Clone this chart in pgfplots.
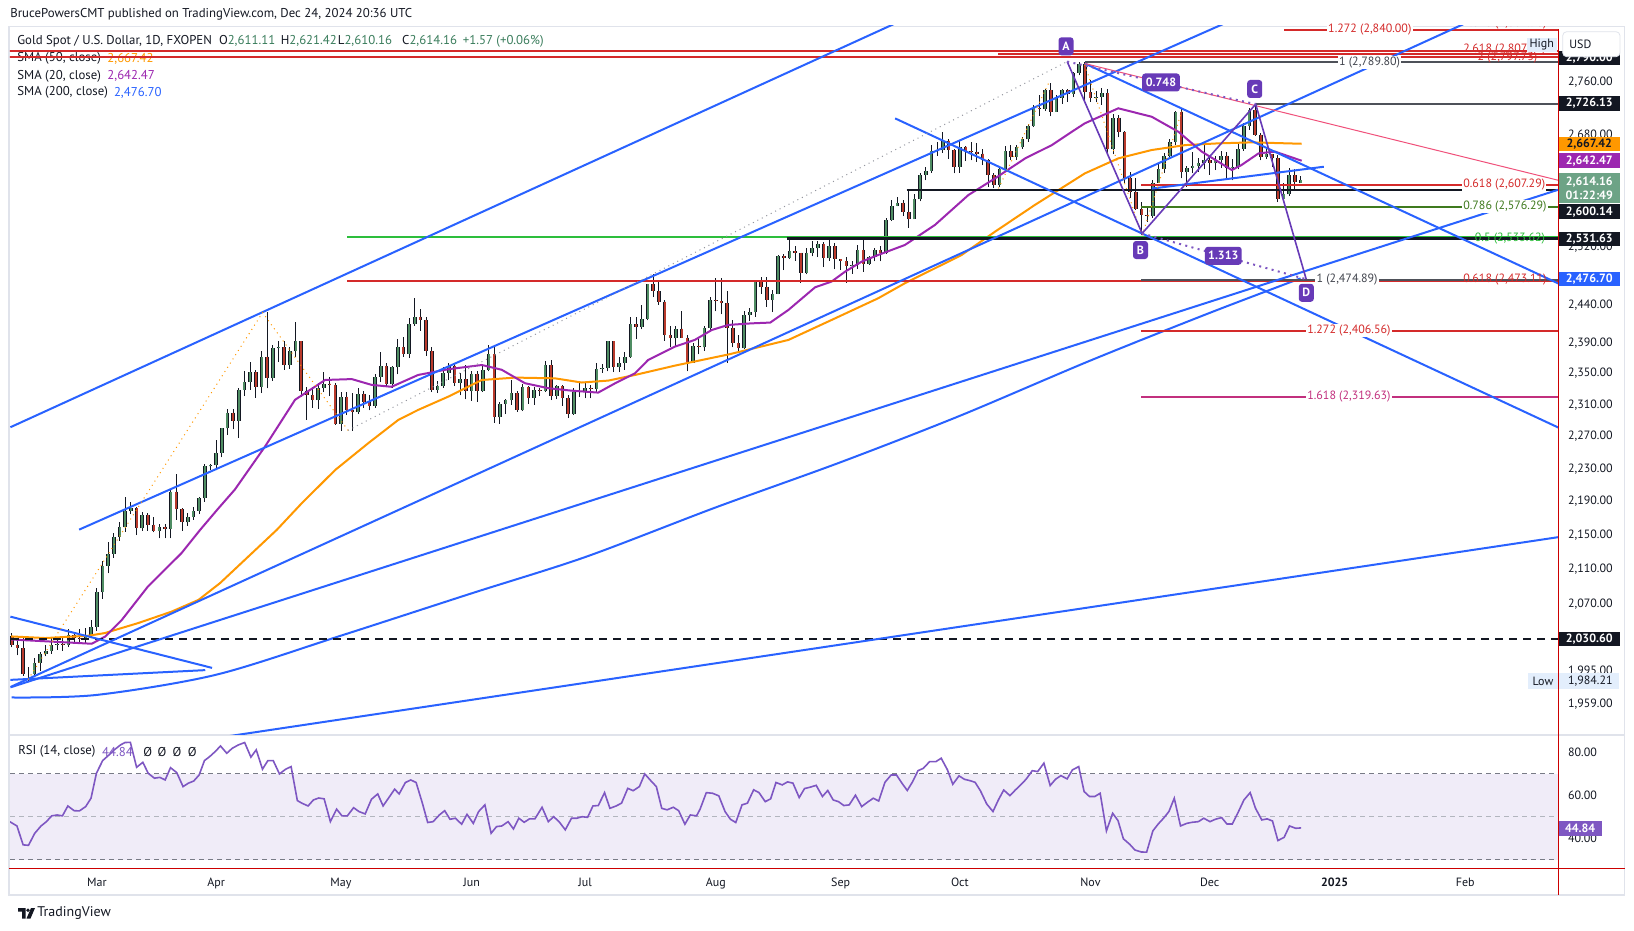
\documentclass[border=0pt]{standalone}
\usepackage{fontspec}
\setmainfont{PT Sans}
\usepackage{pgfplots}
\usepackage{pgfplotstable}
\pgfplotsset{compat=1.18}
\usepgfplotslibrary{fillbetween}

\definecolor{tvtext}{HTML}{131722}
\definecolor{tvgray}{HTML}{787B86}
\definecolor{tvlight}{HTML}{B2B5BE}
\definecolor{tvframe}{HTML}{E0E3EB}
\definecolor{tvblue}{HTML}{2962FF}
\definecolor{tvorange}{HTML}{FF9800}
\definecolor{tvpurple}{HTML}{9C27B0}
\definecolor{tvviolet}{HTML}{673AB7}
\definecolor{rsicol}{HTML}{7E57C2}
\definecolor{rsiband}{HTML}{F0ECF8}
\definecolor{rsigreen}{HTML}{C3E6C6}
\definecolor{fibred}{HTML}{D42A2A}
\definecolor{fibgreen}{HTML}{3F7A1E}
\definecolor{brightgreen}{HTML}{2DBE3C}
\definecolor{fibmag}{HTML}{C2307E}
\definecolor{pinkline}{HTML}{F0507A}
\definecolor{upfill}{HTML}{4F8D63}
\definecolor{dnfill}{HTML}{B93A2C}
\definecolor{lastgreen}{HTML}{6DA386}
\definecolor{lgreen}{HTML}{3A7D5C}
\definecolor{hlbg}{HTML}{E3EEFC}
\definecolor{redline}{HTML}{CC0000}

\newcommand\tvfont{\fontsize{6}{7}\selectfont}
\newcommand\lgfont{\fontsize{6.4}{7.5}\selectfont}

% daily candles, x = trading day (0 = 1 Mar 2024)
\pgfplotstableread{
i O H L C
-15 2034 2037 2021 2024
-14 2024 2031 2012 2020
-13 2020 2032 1990 1992
-12 1992 1999 1984 1992
-11 1992 2009 1990 2004
-10 2004 2016 1995 2013
-9 2013 2023 2011 2017
-8 2017 2031 2014 2024
-7 2024 2030 2018 2025
-6 2025 2034 2017 2024
-5 2024 2041 2021 2035
-4 2035 2038 2025 2031
-3 2031 2041 2027 2030
-2 2030 2043 2026 2034
-1 2034 2052 2031 2044
0 2044 2088 2039 2083
1 2083 2120 2076 2114
2 2114 2142 2105 2128
3 2128 2152 2123 2148
4 2148 2165 2143 2159
5 2159 2195 2154 2179
6 2179 2189 2175 2182
7 2182 2184 2150 2158
8 2158 2177 2155 2174
9 2174 2176 2155 2162
10 2162 2171 2153 2155
11 2155 2163 2146 2160
12 2160 2163 2146 2157
13 2157 2204 2146 2202
14 2202 2223 2168 2181
15 2181 2182 2155 2165
16 2165 2176 2161 2172
17 2172 2184 2168 2179
18 2179 2195 2175 2194
19 2194 2236 2190 2233
20 2233 2236 2228 2234
21 2234 2265 2228 2250
22 2250 2281 2244 2280
23 2280 2305 2272 2300
24 2300 2305 2279 2290
25 2290 2331 2268 2329
26 2329 2354 2321 2339
27 2339 2365 2329 2352
28 2352 2355 2319 2333
29 2333 2379 2325 2372
30 2372 2431 2331 2344
31 2344 2388 2341 2383
32 2383 2393 2365 2384
33 2384 2392 2355 2361
34 2361 2384 2356 2379
35 2379 2418 2372 2392
36 2392 2392 2320 2327
37 2327 2333 2291 2322
38 2322 2333 2306 2316
39 2316 2338 2305 2332
40 2332 2352 2326 2337
41 2337 2345 2321 2335
42 2335 2338 2285 2286
43 2286 2326 2277 2320
44 2320 2326 2297 2303
45 2303 2325 2277 2301
46 2301 2331 2298 2324
47 2324 2327 2306 2314
48 2314 2323 2303 2309
49 2309 2350 2306 2346
50 2346 2378 2339 2360
51 2360 2364 2334 2336
52 2336 2360 2332 2358
53 2358 2395 2349 2385
54 2385 2398 2372 2376
55 2376 2423 2370 2415
56 2415 2450 2413 2425
57 2425 2435 2406 2420
58 2420 2425 2373 2379
59 2379 2385 2326 2329
60 2329 2341 2325 2334
61 2334 2359 2332 2351
62 2351 2364 2342 2360
63 2360 2362 2334 2338
64 2338 2351 2322 2343
65 2343 2361 2317 2327
66 2327 2354 2315 2350
67 2350 2354 2314 2327
68 2327 2360 2326 2355
69 2355 2388 2353 2375
70 2375 2387 2287 2294
71 2294 2313 2286 2311
72 2311 2317 2298 2316
73 2316 2342 2310 2325
74 2325 2327 2301 2303
75 2303 2336 2302 2333
76 2333 2334 2311 2319
77 2319 2333 2310 2329
78 2329 2332 2321 2328
79 2328 2366 2326 2361
80 2361 2368 2316 2321
81 2321 2335 2317 2334
82 2334 2335 2309 2319
83 2319 2323 2293 2298
84 2298 2331 2297 2326
85 2326 2339 2320 2327
86 2327 2339 2318 2332
87 2332 2335 2318 2330
88 2330 2364 2326 2356
89 2356 2363 2351 2357
90 2357 2393 2353 2392
91 2392 2393 2352 2359
92 2359 2372 2352 2364
93 2364 2378 2355 2371
94 2371 2424 2370 2415
95 2415 2425 2395 2411
96 2411 2440 2408 2422
97 2422 2469 2420 2469
98 2469 2483 2451 2459
99 2459 2473 2441 2445
100 2445 2447 2393 2400
101 2400 2412 2385 2396
102 2396 2412 2384 2409
103 2409 2432 2397 2397
104 2397 2400 2353 2364
105 2364 2390 2364 2386
106 2386 2395 2375 2384
107 2384 2412 2380 2410
108 2410 2451 2405 2447
109 2447 2477 2432 2446
110 2446 2477 2428 2443
111 2443 2460 2364 2410
112 2410 2420 2384 2390
113 2390 2401 2378 2383
114 2383 2432 2382 2427
115 2427 2436 2419 2431
116 2431 2474 2425 2472
117 2472 2478 2456 2465
118 2465 2478 2438 2447
119 2447 2461 2431 2456
120 2456 2509 2455 2507
121 2507 2510 2488 2504
122 2504 2531 2503 2514
123 2514 2521 2501 2512
124 2512 2512 2471 2484
125 2484 2519 2482 2512
126 2512 2528 2507 2518
127 2518 2528 2506 2524
128 2524 2527 2492 2504
129 2504 2529 2501 2521
130 2521 2525 2489 2503
131 2503 2503 2488 2500
132 2500 2506 2471 2493
133 2493 2500 2483 2495
134 2495 2523 2490 2516
135 2516 2530 2486 2497
136 2497 2507 2495 2506
137 2506 2519 2500 2516
138 2516 2521 2500 2512
139 2512 2561 2510 2558
140 2558 2586 2556 2578
141 2578 2590 2577 2582
142 2582 2586 2563 2569
143 2569 2600 2547 2559
144 2559 2595 2559 2587
145 2587 2625 2584 2622
146 2622 2634 2614 2628
147 2628 2665 2625 2657
148 2657 2670 2650 2658
149 2658 2685 2654 2672
150 2672 2675 2645 2658
151 2658 2660 2624 2634
152 2634 2673 2625 2663
153 2663 2664 2642 2657
154 2657 2670 2643 2656
155 2656 2669 2641 2653
156 2653 2660 2636 2643
157 2643 2645 2605 2622
158 2622 2624 2603 2608
159 2608 2632 2604 2631
160 2631 2664 2628 2657
161 2657 2665 2643 2648
162 2648 2665 2644 2662
163 2662 2677 2660 2674
164 2674 2696 2670 2693
165 2693 2725 2692 2721
166 2721 2740 2709 2719
167 2719 2749 2716 2748
168 2748 2758 2708 2715
169 2715 2740 2715 2736
170 2736 2749 2727 2747
171 2747 2749 2730 2742
172 2742 2775 2737 2774
173 2774 2790 2770 2788
174 2788 2790 2730 2744
175 2744 2763 2730 2736
176 2736 2746 2729 2737
177 2737 2750 2725 2743
178 2743 2749 2652 2659
179 2659 2711 2652 2706
180 2706 2710 2677 2685
181 2685 2686 2610 2618
182 2618 2626 2589 2598
183 2598 2618 2572 2573
184 2573 2583 2536 2565
185 2565 2578 2555 2563
186 2563 2615 2561 2611
187 2611 2639 2611 2631
188 2631 2654 2625 2650
189 2650 2674 2645 2670
190 2670 2716 2665 2715
191 2715 2721 2617 2626
192 2626 2635 2605 2632
193 2632 2655 2624 2635
194 2635 2647 2626 2639
195 2639 2665 2630 2643
196 2643 2650 2622 2640
197 2640 2650 2629 2643
198 2643 2657 2632 2650
199 2650 2655 2616 2632
200 2632 2645 2614 2633
201 2633 2667 2630 2660
202 2660 2698 2657 2694
203 2694 2721 2688 2718
204 2718 2726 2679 2681
205 2681 2684 2643 2648
206 2648 2661 2645 2652
207 2652 2653 2634 2646
208 2646 2651 2583 2587
209 2587 2611 2583 2594
210 2594 2632 2592 2622
211 2622 2630 2602 2612
212 2611 2621 2610 2614
}\candles

\pgfplotstableread{
x y
-15.34 47.7
-14.08 45.7
-12.98 36.9
-12.04 36.7
-10.94 42.3
-9.83 45.7
-8.89 47.7
-7.95 50.4
-7.00 50.8
-6.06 50.4
-5.11 55.0
-4.01 52.8
-3.07 52.7
-1.97 54.7
-1.03 58.6
-0.08 70.2
1.02 76.1
2.12 78.7
3.06 81.1
4.17 83.4
4.95 84.5
5.90 84.6
7.00 73.0
8.10 75.3
9.04 70.2
10.14 67.9
11.09 68.3
12.03 67.1
12.97 72.8
14.07 70.5
15.18 64.0
16.12 65.6
17.06 66.6
18.01 69.4
18.95 76.1
19.89 78.0
20.84 80.3
21.78 82.9
22.88 79.5
23.83 81.8
24.93 83.4
26.03 84.5
27.13 77.7
28.07 81.1
29.17 72.1
30.12 76.1
31.06 76.1
32.16 69.9
33.26 72.1
34.21 73.3
35.31 57.5
36.10 56.3
37.20 55.0
38.14 57.8
39.08 58.7
40.03 58.3
41.13 47.7
42.23 53.5
43.17 50.4
44.12 50.4
45.22 54.2
46.16 52.4
47.26 51.3
48.36 58.1
49.47 60.6
50.41 55.0
51.35 58.6
52.45 62.8
53.24 60.6
54.34 65.9
55.29 67.1
56.23 65.9
57.33 56.3
58.27 47.3
59.22 47.7
60.32 50.8
61.26 52.8
62.20 48.8
63.15 49.3
64.25 46.5
65.19 51.1
66.30 46.9
67.24 52.4
68.34 55.5
69.44 42.3
70.39 45.4
71.33 45.7
72.43 47.7
73.37 44.3
74.32 49.3
75.26 47.4
76.20 49.0
77.15 49.0
78.41 54.4
79.51 47.7
80.45 50.0
81.40 47.7
82.50 43.9
83.60 49.3
84.54 49.3
85.49 50.0
86.43 49.7
87.37 55.0
88.32 55.2
89.42 61.2
90.36 53.9
91.46 55.0
92.41 56.3
93.51 63.2
94.45 62.1
95.55 64.0
96.50 69.9
97.44 67.1
98.54 64.0
99.49 53.9
100.43 53.2
101.53 54.4
102.47 52.8
103.57 46.5
104.52 50.8
105.62 50.4
106.24 53.5
107.34 61.2
108.44 60.9
109.54 59.7
110.64 52.4
111.59 48.8
112.53 47.3
113.63 55.5
114.58 56.3
115.68 62.5
116.62 61.2
117.72 57.0
118.67 58.3
119.61 65.9
120.71 64.8
121.65 66.2
122.60 65.6
123.70 58.9
124.64 63.1
125.59 63.7
126.69 64.6
127.79 59.4
128.73 62.2
129.68 57.8
130.62 57.0
131.56 55.2
132.51 55.5
133.61 60.0
134.71 54.7
135.65 56.6
136.75 58.6
137.70 57.3
138.80 66.0
139.90 69.4
140.84 69.4
141.79 65.6
142.73 62.2
143.68 66.3
144.62 71.4
145.56 72.5
146.66 75.6
147.76 75.6
148.71 77.2
149.81 71.8
150.75 65.1
151.85 69.0
152.80 67.4
153.74 66.8
154.68 66.0
155.63 62.0
156.73 55.9
157.83 52.4
158.78 57.8
159.72 62.4
160.82 59.8
161.76 62.4
162.71 64.8
163.65 67.4
164.75 71.4
165.70 71.0
166.80 74.9
167.90 64.5
168.84 67.4
169.79 69.1
170.89 67.6
171.83 71.8
172.93 73.3
173.88 61.7
174.82 59.4
175.76 59.4
176.71 60.9
177.81 43.4
178.91 51.6
179.85 48.2
180.80 39.7
181.90 37.2
182.84 34.5
183.94 33.6
184.89 33.5
185.99 43.4
186.93 46.6
187.87 49.3
188.82 52.4
189.76 58.6
190.86 45.7
191.96 46.9
192.91 47.4
194.01 47.7
194.95 49.3
196.05 47.7
196.99 48.8
198.10 49.6
199.04 46.6
199.98 46.6
200.93 51.6
202.03 57.8
203.13 61.2
204.07 53.9
205.17 48.5
206.12 49.0
207.06 48.0
208.01 38.9
209.11 40.4
210.05 45.7
211.15 44.6
212.10 44.8
}\rsidata

% collect wick and body segments from the candle table
\pgfplotstablegetrowsof{\candles}
\pgfmathtruncatemacro\lastrow{\pgfplotsretval-1}
\def\wicks{}\def\ups{}\def\dns{}
\pgfplotsforeachungrouped \r in {0,...,\lastrow}{%
  \pgfplotstablegetelem{\r}{i}\of\candles\let\ci\pgfplotsretval
  \pgfplotstablegetelem{\r}{O}\of\candles\let\co\pgfplotsretval
  \pgfplotstablegetelem{\r}{H}\of\candles\let\ch\pgfplotsretval
  \pgfplotstablegetelem{\r}{L}\of\candles\let\cl\pgfplotsretval
  \pgfplotstablegetelem{\r}{C}\of\candles\let\cc\pgfplotsretval
  \edef\wicks{\wicks (\ci,\cl) (\ci,\ch) (\ci,nan)}%
  \ifdim\cc pt<\co pt
    \edef\dns{\dns (\ci,\co) (\ci,\cc) (\ci,nan)}%
  \else
    \edef\ups{\ups (\ci,\co) (\ci,\cc) (\ci,nan)}%
  \fi
}

\tikzset{
  tag/.style={anchor=west, inner sep=0pt, minimum width=30.5pt, minimum height=7.4pt, text=white, font=\tvfont\bfseries},
  fib/.style={anchor=west, inner sep=0.6pt, font=\tvfont},
  pt/.style={fill=tvviolet, text=white, rounded corners=1.5pt, inner sep=0pt, minimum height=9pt, font=\tvfont\bfseries},
  lg/.style={anchor=west, inner sep=0pt, font=\lgfont, text=tvtext},
}

\begin{document}
\begin{tikzpicture}
\begin{scope}[x=0.5pt,y=-0.5pt]
\fill[white] (0,0) rectangle (1634,931);
\path[use as bounding box] (0,0) rectangle (1634,931);
% frame
\draw[tvframe, line width=0.6pt] (9,26.5) rectangle (1624.5,895);
\draw[tvframe, line width=0.6pt] (9,735) -- (1624.5,735);
% header and legend
\node[lg] at (10,14.6) {BrucePowersCMT published on TradingView.com, Dec 24, 2024 20:36 UTC};
\node[lg] at (17,41) {Gold Spot / U.S. Dollar, 1D, FXOPEN};
\node[lg] at (218.6,41) {O\textcolor{lgreen}{2,611.11}};
\node[lg] at (280.4,41) {H\textcolor{lgreen}{2,621.42}};
\node[lg] at (337.5,41) {L\textcolor{lgreen}{2,610.16}};
\node[lg] at (401.8,41) {C\textcolor{lgreen}{2,614.16}};
\node[lg] at (462.5,41) {\textcolor{lgreen}{+1.57 (+0.06\%)}};
\node[lg] at (17,58.4) {SMA (50, close)};
\node[lg] at (107,58.4) {\textcolor{tvorange}{2,667.42}};
\node[lg] at (17,76) {SMA (20, close)};
\node[lg] at (107,76) {\textcolor{tvpurple}{2,642.47}};
\node[lg] at (17,92.7) {SMA (200, close)};
\node[lg] at (113.6,92.7) {\textcolor{tvblue}{2,476.70}};
\end{scope}

%================ price pane
\begin{axis}[
  at={(5pt,-367.5pt)}, anchor=south west, scale only axis,
  width=774.15pt, height=354.5pt,
  xmin=-15.3, xmax=257.4,
  ymode=log, ymin=1925.9, ymax=2846.6,
  axis line style={draw=none}, major tick length=0pt, minor tick length=0pt,
  tick style={draw=none},
  xtick=\empty,
  ytick={1959,1995,2070,2110,2150,2190,2230,2270,2310,2350,2390,2440,2520,2680,2760},
  yticklabels={\mbox{1,959.00},\mbox{1,995.00},\mbox{2,070.00},\mbox{2,110.00},\mbox{2,150.00},\mbox{2,190.00},\mbox{2,230.00},\mbox{2,270.00},\mbox{2,310.00},\mbox{2,350.00},\mbox{2,390.00},\mbox{2,440.00},\mbox{2,520.00},\mbox{2,680.00},\mbox{2,760.00}},
  yticklabel pos=right,
  yticklabel style={anchor=west, inner sep=0pt, xshift=4.7pt, font=\tvfont, text=tvtext},
  unbounded coords=jump,
]
% candles: wicks, then outlined bodies
\edef\tmp{\noexpand\addplot[tvtext, line width=0.5pt] coordinates {\wicks};}\tmp
\edef\tmp{\noexpand\addplot[tvtext, line width=1.8pt, line cap=butt] coordinates {\ups};}\tmp
\edef\tmp{\noexpand\addplot[upfill, line width=1.0pt, line cap=butt] coordinates {\ups};}\tmp
\edef\tmp{\noexpand\addplot[tvtext, line width=1.8pt, line cap=butt] coordinates {\dns};}\tmp
\edef\tmp{\noexpand\addplot[dnfill, line width=1.0pt, line cap=butt] coordinates {\dns};}\tmp

% moving averages
\addplot[tvblue, line width=1pt, smooth, tension=0.5] coordinates {
 (-15,1966) (0,1969) (21,1991) (43,2034) (66,2082) (86,2124) (109,2183)
 (131,2238) (152,2296) (175,2367) (196,2430) (212,2476.7)};
\addplot[tvorange, line width=1pt] coordinates {
 (-15.1,2033.1) (-9.1,2031.3) (-1.5,2033.9) (1.4,2036.9) (7.3,2048.2) (13.2,2061.2)
 (17.9,2074.5) (21.7,2093.8) (31.7,2156.2) (36.1,2188.1) (42.0,2228.6) (47.8,2261.6)
 (53.1,2290.9) (56.6,2303.5) (61.9,2320.4) (67.8,2341.8) (73.7,2344.9) (80.7,2343.9)
 (85.4,2338.5) (90.1,2341) (94.8,2348.3) (101.8,2360.4) (111.4,2375.2) (121.8,2394)
 (129.4,2420.5) (137.6,2449.6) (142.3,2469.9) (152.3,2508.8) (158.2,2541.3)
 (165.2,2578.9) (171.7,2612.2) (174,2624.2) (179.9,2646) (185.8,2658.2) (191.7,2665.5)
 (197.5,2668) (203.4,2669.4) (212.2,2667.4)};
\addplot[tvpurple, line width=1pt] coordinates {
 (-15.1,2029.7) (-0.9,2024.9) (1.5,2033.1) (4.4,2051.8) (9.0,2089.9) (14.9,2128.6)
 (18.2,2156.2) (21.4,2181.8) (24.3,2204.5) (29.6,2257.3) (34.9,2316.3) (40.2,2341.8)
 (44.9,2342.9) (48.4,2335.4) (51.9,2333) (56.6,2348.3) (61.9,2355.7) (67.8,2361.2)
 (71.3,2355) (75.4,2337.6) (79.5,2331.2) (83.6,2328) (88.3,2325.6) (91.3,2337.6)
 (94.8,2350.5) (97.1,2367.7) (101.8,2385.2) (105.3,2394) (108.3,2407.2) (111.2,2413.9)
 (115.3,2416) (118.6,2417) (121.8,2433.9) (126.5,2464.5) (129.4,2472.2) (131.8,2485.9)
 (134.7,2499.6) (137.6,2508.8) (142.3,2522.6) (147.6,2550.6) (153.5,2593.1) (158.2,2617)
 (163.5,2646) (168.2,2665.5) (171.7,2685) (174,2697.6) (179.9,2720) (185.8,2707.4)
 (190.5,2685) (194.6,2655.8) (199.9,2629.1) (201.6,2636.3) (204.6,2653.3) (207.5,2655.8)
 (212.2,2642.5)};

% horizontal levels
\addplot[fibred, line width=1pt] coordinates {(209.1,2840) (260,2840)};
\addplot[fibred, line width=1pt] coordinates {(-20,2807.62) (260,2807.62)};
\addplot[fibred, line width=1pt] coordinates {(158.8,2802.12) (260,2802.12)};
\addplot[fibred, line width=1pt] coordinates {(-20,2797.73) (260,2797.73)};
\addplot[tvtext!75, line width=1pt] coordinates {(174,2789.8) (260,2789.8)};
\addplot[tvtext!75, line width=1pt] coordinates {(204.1,2726.13) (260,2726.13)};
\addplot[fibred, line width=1pt] coordinates {(183.9,2607.29) (260,2607.29)};
\addplot[tvtext, line width=1pt] coordinates {(142.6,2600.14) (260,2600.14)};
\addplot[fibgreen, line width=1pt] coordinates {(183.9,2576.29) (260,2576.29)};
\addplot[brightgreen, line width=1pt] coordinates {(44.1,2533.62) (260,2533.62)};
\addplot[tvtext, line width=1.1pt] coordinates {(121.5,2531.63) (260,2531.63)};
\addplot[fibred, line width=1pt] coordinates {(44.1,2473.11) (260,2473.11)};
\addplot[tvtext!75, line width=1pt] coordinates {(183.9,2474.89) (260,2474.89)};
\addplot[fibred, line width=1pt] coordinates {(183.9,2406.56) (260,2406.56)};
\addplot[fibmag, line width=1pt] coordinates {(183.9,2319.63) (260,2319.63)};
\addplot[tvtext, line width=1pt, dash pattern=on 4pt off 3pt] coordinates {(-20,2030.6) (260,2030.6)};

% trend lines
\addplot[tvblue, line width=1pt] coordinates {(-15.23,2281.6) (150,2888.9)};
\addplot[tvblue, line width=1pt] coordinates {(-3.12,2156.4) (210,2895.6)};
\addplot[tvblue, line width=1pt] coordinates {(-15.23,1977.0) (257.4,2600.7)};
\addplot[tvblue, line width=1pt] coordinates {(-15.14,1977.8) (257.4,2918.1)};
\addplot[tvblue, line width=1pt] coordinates {(-15.23,1890.3) (257.4,2147.5)};
\addplot[tvblue, line width=1pt] coordinates {(-15.23,2055.4) (20.29,1998.4)};
\addplot[tvblue, line width=1pt] coordinates {(-15.23,1985.1) (19.09,1996.1)};
\addplot[tvblue, line width=1pt] coordinates {(140.6,2705.0) (257.4,2281.2)};
\addplot[tvblue, line width=1pt] coordinates {(174.0,2788.1) (257.4,2469.8)};
\addplot[tvblue, line width=1pt] coordinates {(185.8,2602.2) (216.1,2633.8)};

% dotted guides
\addplot[tvgray!80, line width=0.5pt, dotted] coordinates {(44.24,2277.6) (170.9,2791)};
\addplot[tvorange, line width=0.5pt, dotted] coordinates {(-12.11,1985.8) (29.19,2430.4) (44.24,2277.6)};
\addplot[tvorange, line width=0.5pt, dotted] coordinates {(158.8,2602.6) (167.6,2757.5)};
\addplot[tvorange, line width=0.5pt, dotted] coordinates {(174.0,2786) (184.1,2536) (191.1,2716)};
\addplot[pinkline, line width=0.5pt] coordinates {(174,2788) (257.4,2614.2)};

% ABCD pattern
\addplot[tvviolet, line width=0.8pt] coordinates {(170.9,2791) (184.1,2538.7) (204.1,2726.1) (213.0,2475.5)};
\addplot[rsicol, line width=1pt, dash pattern=on 1pt off 2.2pt] coordinates {(170.9,2791) (204.1,2726.1)};
\addplot[rsicol, line width=1pt, dash pattern=on 1pt off 2.2pt] coordinates {(184.1,2538.7) (213.0,2475.5)};
\end{axis}

%================ RSI pane
\begin{axis}[
  at={(5pt,-434.15pt)}, anchor=south west, scale only axis,
  width=774.15pt, height=66.65pt,
  xmin=-15.3, xmax=257.4, ymin=26, ymax=88,
  axis line style={draw=none}, major tick length=0pt, tick style={draw=none},
  xtick={0,21,43,66,86,109,131,152,175,196,218,241},
  xticklabels={\mbox{Mar},\mbox{Apr},\mbox{May},\mbox{Jun},\mbox{Jul},\mbox{Aug},\mbox{Sep},\mbox{Oct},\mbox{Nov},\mbox{Dec},\mbox{\bfseries 2025},\mbox{Feb}},
  xticklabel style={anchor=base, inner sep=0pt, yshift=-9pt, font=\tvfont, text=tvtext},
  ytick={40,60,80}, yticklabels={\mbox{40.00},\mbox{60.00},\mbox{80.00}},
  yticklabel pos=right,
  yticklabel style={anchor=west, inner sep=0pt, xshift=4.7pt, font=\tvfont, text=tvtext},
]
\addplot[fill=rsiband, draw=none] coordinates {(-20,30) (260,30) (260,70) (-20,70)} -- cycle;
\addplot[tvgray, line width=0.5pt, dash pattern=on 2.5pt off 2pt] coordinates {(-20,70) (260,70)};
\addplot[tvlight, line width=0.5pt, dash pattern=on 2.5pt off 2pt] coordinates {(-20,50) (260,50)};
\addplot[tvgray, line width=0.5pt, dash pattern=on 2.5pt off 2pt] coordinates {(-20,30) (260,30)};
\addplot[name path=rsi, draw=none] table[x=x, y=y] {\rsidata};
\addplot[name path=seventy, draw=none] coordinates {(-20,70) (260,70)};
\addplot[fill=rsigreen, draw=none] fill between[of=rsi and seventy,
  soft clip={(axis cs:-20,70) rectangle (axis cs:260,95)}];
\addplot[rsicol, line width=0.8pt] table[x=x, y=y] {\rsidata};
\end{axis}

\begin{scope}[x=0.5pt,y=-0.5pt]
% RSI legend
\node[lg] at (17.9,751.7) {RSI (14, close)};
\node[lg] at (101.8,751.7) {\textcolor{rsicol}{44.84}};
\node[lg] at (142.9,751.7) {Ø};
\node[lg] at (157.1,751.7) {Ø};
\node[lg] at (172.3,751.7) {Ø};
\node[lg] at (187.5,751.7) {Ø};

% level labels
\begin{scope}
\clip (9,26.5) rectangle (1558.3,735);
\node[fib, text=fibred] at (1461.7,23.5) {1.618 (2,861.90)};
\end{scope}
\node[fib, text=fibred, fill=white] at (1326.6,29.2) {1.272 (2,840.00)};
\node[fib, text=fibred] at (1461.7,50) {2.618 (2,807.62)};
\node[fib, text=fibred] at (1476,57.5) {2 (2,797.73)};
\node[fib, text=tvtext!80, fill=white] at (1337.5,62.5) {1 (2,789.80)};
\node[fib, text=fibred, fill=white] at (1461.7,184.3) {0.618 (2,607.29)};
\node[fib, text=fibgreen, fill=white] at (1461.7,206.7) {0.786 (2,576.29)};
\node[fib, text=brightgreen] at (1473.3,238.3) {0.5 (2,533.62)};
\node[fib, text=fibred] at (1461.7,280) {0.618 (2,473.11)};
\node[fib, text=tvtext!80, fill=white] at (1315,279.3) {1 (2,474.89)};
\node[fib, text=fibred, fill=white] at (1305.7,330.3) {1.272 (2,406.56)};
\node[fib, text=fibmag, fill=white] at (1305.7,397) {1.618 (2,319.63)};

% pattern labels
\node[pt, minimum width=7.5pt] at (1066,46.3) {A};
\node[pt, minimum width=7.5pt] at (1140.5,250) {B};
\node[pt, minimum width=7.5pt] at (1254.7,89) {C};
\node[pt, minimum width=7.5pt] at (1306.3,292.8) {D};
\node[pt, minimum width=18.9pt] at (1161,82.5) {0.748};
\node[pt, minimum width=18.4pt] at (1223.3,255.8) {1.313};

% price scale tags
\node[tag, fill=tvtext] at (1558.3,58) {2,790.00};
\draw[tvframe, fill=white, rounded corners=2pt] (1562.7,31.7) rectangle (1620,56.7);
\node[anchor=west, inner sep=0pt, font=\tvfont, text=tvtext] at (1569,44.2) {USD};
\fill[hlbg] (1527,38.3) rectangle (1556.7,51.7);
\node[inner sep=0pt, font=\tvfont, text=tvtext] at (1541.8,45) {High};
\node[tag, fill=tvtext] at (1558.3,103.5) {2,726.13};
\node[tag, fill=tvorange, text=tvtext] at (1558.3,144) {2,667.42};
\node[tag, fill=tvpurple] at (1558.3,160.7) {2,642.47};
\node[tag, fill=lastgreen, minimum height=14.7pt, align=center] at (1558.3,188) {2,614.16\\01:22:49};
\node[tag, fill=tvtext] at (1558.3,211.7) {2,600.14};
\node[tag, fill=tvtext] at (1558.3,239) {2,531.63};
\node[tag, fill=tvblue] at (1558.3,279) {2,476.70};
\node[tag, fill=tvtext] at (1558.3,639) {2,030.60};
\fill[hlbg] (1528,673.3) rectangle (1619,689.3);
\node[inner sep=0pt, font=\tvfont, text=tvtext] at (1543,681.3) {Low};
\node[anchor=west, inner sep=0pt, font=\tvfont, text=tvtext] at (1567.7,681.3) {1,984.21};
\node[tag, fill=rsicol, minimum width=21.4pt] at (1558.3,828.3) {44.84};

% red border lines
\draw[redline, line width=0.6pt] (1558.3,29.2) -- (1558.3,895);
\draw[redline, line width=0.6pt] (9,868.3) -- (1624.5,868.3);

% footer logo
\fill[tvtext] (18,908) -- (25.5,908) -- (25.5,918.5) -- (22,918.5) -- (22,911.5) -- (18,911.5) -- cycle;
\fill[tvtext] (28,910.2) circle (1.8);
\fill[tvtext] (31,908) -- (35,908) -- (30.5,918.5) -- (26.5,918.5) -- cycle;
\node[anchor=west, inner sep=0pt, font=\fontsize{7}{8}\selectfont, text=tvtext] at (37,913) {TradingView};
\end{scope}
\end{tikzpicture}
\end{document}
